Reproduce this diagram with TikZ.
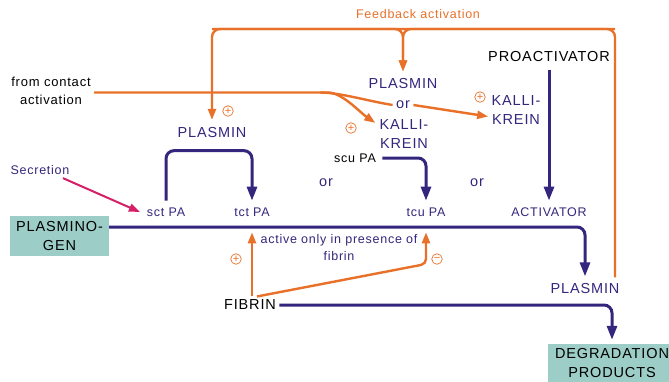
\documentclass[tikz,border=0pt]{standalone}
\usepackage{fontspec}
\setmainfont{Liberation Sans}[LetterSpace=6]
\usepackage{tikz}
\usetikzlibrary{arrows.meta,positioning}
\definecolor{fibblue}{RGB}{52,38,124}
\definecolor{fborange}{RGB}{232,112,40}
\definecolor{secpink}{RGB}{214,31,102}
\definecolor{boxteal}{RGB}{156,206,199}
\newcommand{\bigtxt}{\fontsize{14.5}{19}\selectfont}
\newcommand{\smalltxt}{\fontsize{12.5}{17}\selectfont}

\begin{document}
\begin{tikzpicture}[x=1pt,y=-1pt,
  big/.style={font=\bigtxt,text=fibblue},
  small/.style={font=\smalltxt,text=fibblue},
  pa/.style={small,inner sep=2pt,outer sep=5pt},
  flow/.style={draw=fibblue,line width=3pt,rounded corners=8pt,-{Triangle[length=14pt,width=10pt]}},
  fb/.style={draw=fborange,line width=2.4pt,rounded corners=8pt},
  fbarrow/.style={fb,-{Triangle[length=11pt,width=8pt]}},
  sign/.style={circle,draw=fborange,line width=0.7pt,inner sep=0pt,minimum size=10.5pt,
    text=fborange,font=\fontsize{11}{11}\selectfont},
  box/.style={fill=boxteal,font=\bigtxt,align=center,inner sep=0pt}]
\useasboundingbox (0,0) rectangle (669,381);
% ---- upper half: activators and the feedback loop ----
\node[small,text=fborange] (feed) at (418,14) {Feedback activation};
\coordinate (fbL) at (212,29);
\coordinate (fbR) at (615,29);
\node[font=\fontsize{13}{18}\selectfont,align=center] (contact) at (51,91) {from contact\\activation};
\coordinate (split) at (320,92.5);
\node[big] (plasM) at (403,84) {PLASMIN};
\node[big] (orM) at (403,105) {or};
\node[big,align=center] (kalM) at (404,134.5) {KALLI-\\KREIN};
\node[big,align=center] (kalR) at (516,110.5) {KALLI-\\KREIN};
\node[big,text=black] (proact) at (549,57) {PROACTIVATOR};
\node[big] (plasL) at (212,133) {PLASMIN};
\node[small,text=black] (scu) at (355,158) {scu PA};
\node[big] (orL) at (326,183) {or};
\node[big] (orR) at (477,183) {or};
\node[small] (secr) at (40,170) {Secretion};
% ---- the activators on the main line ----
\node[pa] (sct) at (166,212) {sct PA};
\node[pa] (tct) at (252,212) {tct PA};
\node[pa] (tcu) at (426,212) {tcu PA};
\node[pa] (act) at (549,212) {ACTIVATOR};
\node[box,minimum width=99pt,minimum height=40pt] (plg) at (59.5,236) {PLASMINO-\\GEN};
\node[small,align=center,font=\fontsize{12.5}{17}\selectfont] (note) at (339,247.5) {active only in presence of\\fibrin};
\node[big] (plasR) at (585,289) {PLASMIN};
\node[big,text=black] (fibrin) at (250,305) {FIBRIN};
\node[box,minimum width=128pt,minimum height=38pt] (deg) at (612,363) {DEGRADATION\\PRODUCTS};
\coordinate (tcuBend) at (426,264);
% plus / minus marks
\node[sign] (s1) at (228,111) {+};
\node[sign] (s2) at (351,128) {+};
\node[sign] (s3) at (480,97) {+};
\node[sign] (s4) at (236,259) {+};
\node[sign] (s5) at (437,259) {−};

% feedback from plasmin
\draw[fbarrow,shorten <=3pt,shorten >=4.5pt] (plasR.north east -| fbR) -- (fbR) -- (fbL) -- (plasL.north);
\draw[fbarrow,shorten >=4pt] (fbL) -| (plasM.north);
\draw[fbarrow,shorten >=4pt] (fbR) -| (plasM.north);
% contact activation branches
\draw[fbarrow,shorten >=1pt] (contact.east |- split) -- (split) .. controls +(22,0) and +(-16,-11) .. ([yshift=-7pt]kalM.north west);
\draw[fb] (split) .. controls +(20,0) and +(-25,-4) .. (orM.west);
\draw[fbarrow] (orM.east) -- ([yshift=-6pt]kalR.west);
% conversions of the activators
\draw[flow] (sct.north) |- ([yshift=-9pt]plasL.south) -| (tct.north);
\draw[flow,shorten <=3pt] (scu.east) -| (tcu.north);
\draw[flow,shorten <=4pt] (proact.south) -- (act.north);
\draw[secpink,line width=2pt,-{Triangle[length=11pt,width=8pt]}] ([xshift=-10pt]secr.south east) -- (sct.west);
% plasminogen -> plasmin, fibrin -> degradation
\draw[flow,shorten >=4pt] ([yshift=9pt]plg.east) -| (plasR.north);
\draw[flow,shorten >=4pt] (fibrin.east) -| (deg.north);
% fibrin stimulates the t-PA forms
\draw[fbarrow] (tct.south |- fibrin.north) -- ([yshift=-9pt]tct.south);
\draw[fbarrow,rounded corners=5pt] ([xshift=7pt]fibrin.north) -- (tcuBend) -- ([yshift=-9pt]tcu.south);
\end{tikzpicture}
\end{document}
